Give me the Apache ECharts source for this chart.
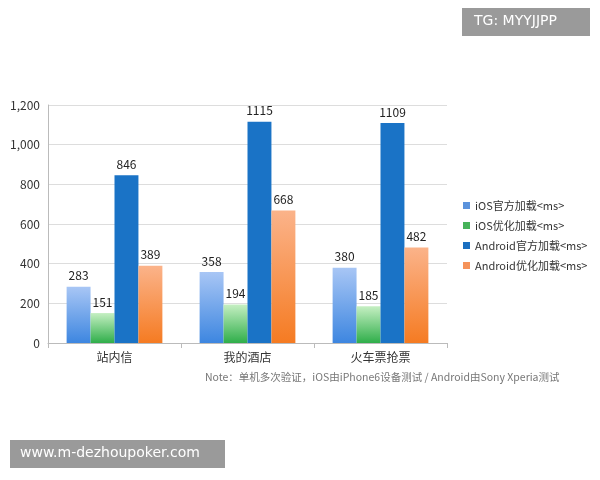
<!DOCTYPE html><html><head><meta charset="utf-8"><script src="https://cdn.jsdelivr.net/npm/echarts@6/dist/echarts.min.js"></script></head><body style="margin:0;background:#fff"><div id="c" style="width:600px;height:480px"></div><script>
const categories=['站内信','我的酒店','火车票抢票'];
const seriesNames=['iOS官方加载<ms>','iOS优化加载<ms>','Android官方加载<ms>','Android优化加载<ms>'];
const iosOfficial=[283,358,380];
const iosOpt=[151,194,185];
const andOfficial=[846,1115,1109];
const andOpt=[389,668,482];
const yTicks=[0,1200,200];
const vals=[iosOfficial,iosOpt,andOfficial,andOpt];
const grads=[['#a8c6f5','#3d86e0'],['#c5efc2','#2fae4a'],['#1a73c6','#1a73c6'],['#fbb38a','#f57b22']];
const legendCols=['#5b93dc','#46b35a','#1a6fc0','#f5935a'];
const F='"Noto Sans CJK SC","Noto Sans",sans-serif';
const ch=echarts.init(document.getElementById('c'));
ch.setOption({
 animation:false,
 grid:{left:48,right:153,top:105,bottom:137},
 xAxis:{type:'category',data:categories,axisTick:{show:true,inside:false},axisLine:{lineStyle:{color:'#bbb'}},axisLabel:{color:'#333',fontSize:12,fontFamily:F}},
 yAxis:{type:'value',min:yTicks[0],max:yTicks[1],interval:yTicks[2],axisLine:{show:true,lineStyle:{color:'#bbb'}},splitLine:{lineStyle:{color:'#ddd'}},axisLabel:{color:'#333',fontSize:12,fontFamily:F}},
 legend:{orient:'vertical',left:458,top:195,itemWidth:7,itemHeight:7,itemGap:9,icon:'rect',textStyle:{fontSize:11,color:'#333',fontFamily:F},data:seriesNames.map((n,i)=>({name:n,itemStyle:{color:legendCols[i]}}))},
 graphic:[
  {type:'rect',shape:{x:462,y:8,width:128,height:28},style:{fill:'#9a9a9a'}},
  {type:'text',left:474,top:14,style:{text:'TG: MYYJJPP',fill:'#fff',fontSize:14,fontFamily:'"DejaVu Sans"'}},
  {type:'rect',shape:{x:10,y:440,width:215,height:28},style:{fill:'#9a9a9a'}},
  {type:'text',left:20,top:446,style:{text:'www.m-dezhoupoker.com',fill:'#fff',fontSize:14,fontFamily:'"DejaVu Sans"'}},
  {type:'text',left:205,top:372,style:{text:'Note：单机多次验证，iOS由iPhone6设备测试 / Android由Sony Xperia测试',fill:'#777',fontSize:10.5,fontFamily:F}}
 ],
 series:vals.map((v,i)=>({name:seriesNames[i],type:'bar',data:v,barGap:'0%',barCategoryGap:'28%',
  itemStyle:{color:new echarts.graphic.LinearGradient(0,0,0,1,[{offset:0,color:grads[i][0]},{offset:1,color:grads[i][1]}])},
  label:{show:true,position:'top',color:'#222',fontSize:12,fontFamily:F}}))
});
</script></body></html>
